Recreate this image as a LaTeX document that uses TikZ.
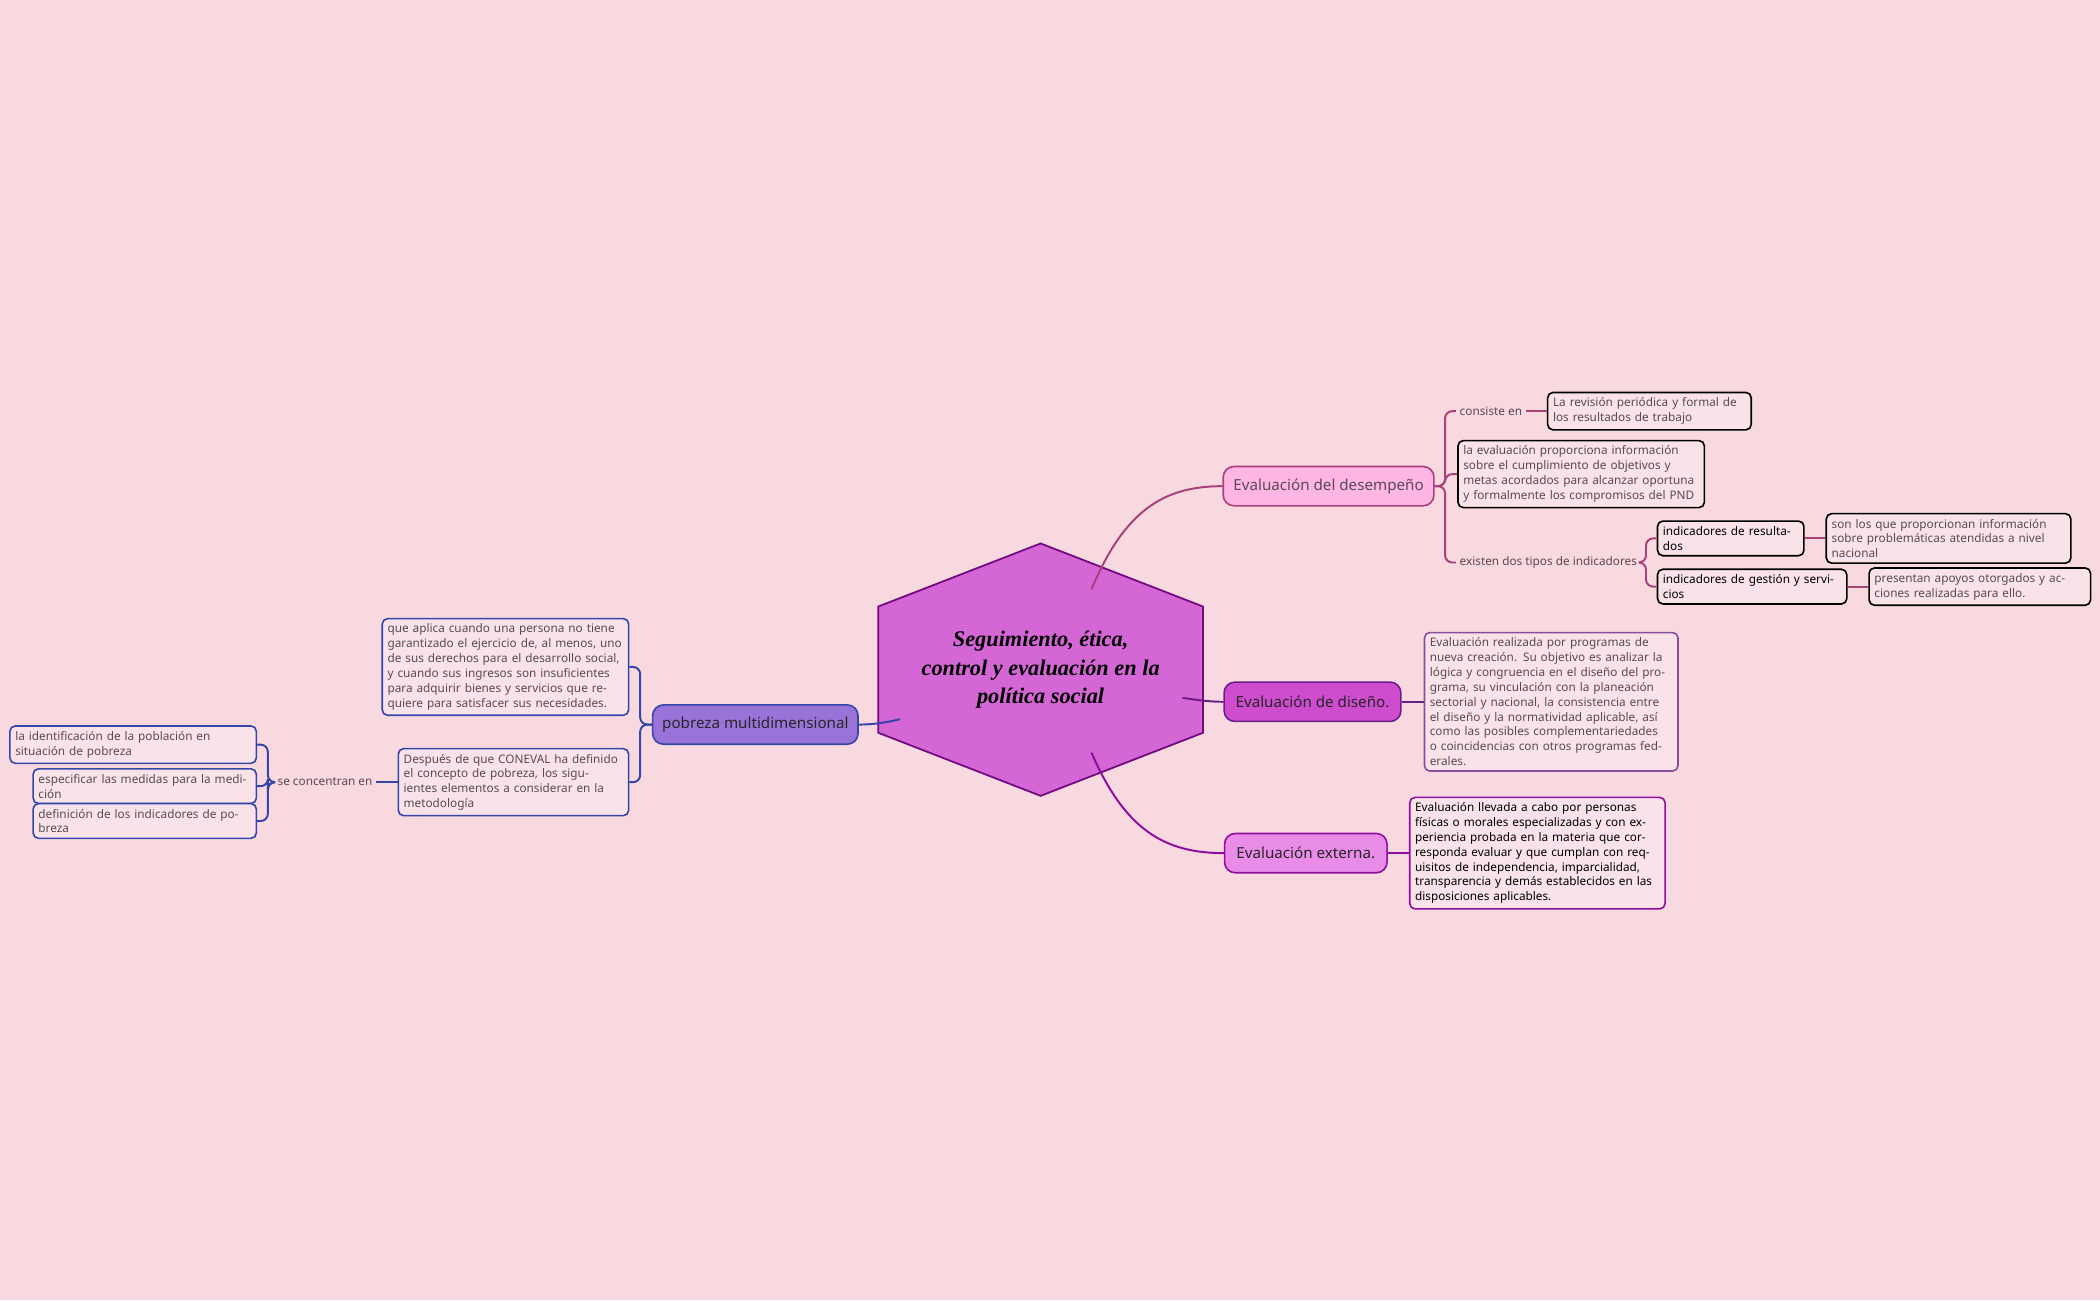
\documentclass[tikz,border=0pt]{standalone}
\usepackage{fontspec}
\setmainfont{Noto Sans}
\newfontfamily\titlefont{Liberation Serif}
\usetikzlibrary{shapes.geometric}
\definecolor{bg}{HTML}{F8D9DF}
\definecolor{boxfill}{HTML}{F9E3E8}
\definecolor{tg}{HTML}{5A4A55}
\definecolor{cdes}{HTML}{A8407A}
\definecolor{cdis}{HTML}{6A1E8A}
\definecolor{cext}{HTML}{8E0E9E}
\definecolor{cpob}{HTML}{3545A8}
\begin{document}
\begin{tikzpicture}[x=0.75pt,y=-0.75pt,
 box/.style={draw,rounded corners=3pt,fill=boxfill,line width=0.9pt,align=left,
   font=\fontsize{6.6}{8.3}\selectfont,text=tg,inner sep=3pt,anchor=west},
 lab/.style={font=\fontsize{6.6}{8.3}\selectfont,text=tg,inner sep=2pt},
 main/.style={draw,rounded corners=6pt,line width=0.9pt,font=\fontsize{8.5}{10}\selectfont\bfseries,minimum height=22pt,inner sep=2pt},
 con/.style={line width=1.1pt,rounded corners=4pt}]
\fill[bg] (0,0) rectangle (1568,971);
\node[regular polygon,regular polygon sides=6,shape border rotate=90,draw=cext!80!black,fill=violet!55!magenta!60!white,line width=1pt,minimum size=191pt,
  inner sep=0pt,yscale=0.74,xscale=1.1] (hex) at (777,500) {};
\node[font=\titlefont\fontsize{12.5}{16}\selectfont\bfseries\itshape,align=center,text=black] (title) at (777,500) {Seguimiento, ética,\\control y evaluación en la\\política social};
% main nodes
\node[main,fill=pink!70!magenta!60!white,draw=cdes,text=tg,minimum width=118pt] (des) at (992,363) {Evaluación del desempeño};
\node[main,fill=violet!55!magenta!70!white,draw=cdis,text=black!85,minimum width=99pt] (dis) at (980,524) {Evaluación de diseño.};
\node[main,fill=violet!40!magenta!45!white,draw=cext,text=black!85,minimum width=91pt] (ext) at (975,637) {Evaluación externa.};
\node[main,fill=blue!45!violet!55!white,draw=cpob,text=black!85,minimum width=115pt] (pob) at (564,541) {pobreza multidimensional};
% hexagon connectors
\draw[con,cdes] (815,440) coordinate (h1) .. controls (840,380) and (870,363) .. (des.west);
\draw[con,cdis] (883,521) coordinate (h2) .. controls (895,523) and (905,524) .. (dis.west);
\draw[con,cext] (815,562) coordinate (h3) .. controls (840,620) and (870,637) .. (ext.west);
\draw[con,cpob] (672,537) coordinate (h4) .. controls (660,540) and (650,541) .. (pob.east);
% desempeño branch
\node[lab,anchor=west] (cons) at (1087,307) {consiste en};
\node[box,text width=108pt] (rev) at (1155,307) {La revisión periódica y formal de los resultados de trabajo};
\node[box,text width=132pt] (prop) at (1088,354) {la evaluación proporciona información sobre el cumplimiento de objetivos y metas acordados para alcanzar oportuna y formalmente los compromisos del PND};
\node[lab,anchor=west] (exis) at (1087,420) {existen dos tipos de indicadores};
\node[box,text=black,text width=76pt] (ires) at (1237,402) {indicadores de resultados};
\node[box,text=black,text width=100pt] (iges) at (1237,438) {indicadores de gestión y servicios};
\node[box,text width=131pt] (sonl) at (1363,402) {son los que proporcionan información sobre problemáticas atendidas a nivel nacional};
\node[box,text width=118pt] (pres) at (1395,438) {presentan apoyos otorgados y acciones realizadas para ello.};
\foreach \c in {cons,prop,exis} \draw[con,cdes] (des.east) -- (1079,363) |- (\c.west);
\draw[con,cdes] (cons.east) -- (rev.west);
\foreach \c in {ires,iges} \draw[con,cdes] (exis.east) -- (1229,420) |- (\c.west);
\draw[con,cdes] (ires.east) -- (sonl.west);
\draw[con,cdes] (iges.east) -- (pres.west);
% diseño
\node[box,draw=cdis!80!white,text width=136pt] (disb) at (1063,524) {Evaluación realizada por programas de nueva creación. Su objetivo es analizar la lógica y congruencia en el diseño del programa, su vinculación con la planeación sectorial y nacional, la consistencia entre el diseño y la normatividad aplicable, así como las posibles complementariedades o coincidencias con otros programas federales.};
\draw[con,cdis] (dis.east) -- (disb.west);
% externa
\node[box,draw=cext,text=black,text width=137pt] (extb) at (1052,637) {Evaluación llevada a cabo por personas físicas o morales especializadas y con experiencia probada en la materia que corresponda evaluar y que cumplan con requisitos de independencia, imparcialidad, transparencia y demás establecidos en las disposiciones aplicables.};
\draw[con,cext] (ext.east) -- (extb.west);
% pobreza
\node[box,draw=cpob,anchor=east,text width=132pt] (apl) at (470,498) {que aplica cuando una persona no tiene garantizado el ejercicio de, al menos, uno de sus derechos para el desarrollo social, y cuando sus ingresos son insuficientes para adquirir bienes y servicios que requiere para satisfacer sus necesidades.};
\node[box,draw=cpob,anchor=east,text width=123pt] (desp) at (470,584) {Después de que CONEVAL ha definido el concepto de pobreza, los siguientes elementos a considerar en la metodología};
\foreach \c in {apl,desp} \draw[con,cpob] (pob.west) -- (478,541) |- (\c.east);
\node[lab,anchor=east] (sec) at (281,584) {se concentran en};
\draw[con,cpob] (desp.west) -- (sec.east);
\node[box,draw=cpob,anchor=east,text width=132pt] (ide) at (192,556) {la identificación de la población en situación de pobreza};
\node[box,draw=cpob,anchor=east,text width=119pt] (esp) at (192,587) {especificar las medidas para la medición};
\node[box,draw=cpob,anchor=east,text width=119pt] (def) at (192,613) {definición de los indicadores de pobreza};
\foreach \c in {ide,esp,def} \draw[con,cpob] (sec.west) -- (200,584) |- (\c.east);
\end{tikzpicture}
\end{document}
